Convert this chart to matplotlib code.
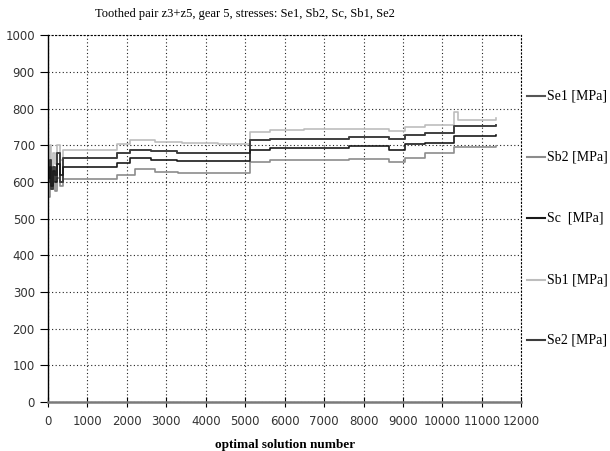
import matplotlib
matplotlib.use("Agg")
import matplotlib.pyplot as plt
from matplotlib.lines import Line2D

# step data (x = solution number, y = stress in MPa)
sb1_x = [0, 40, 80, 130, 180, 230, 300, 380, 1760, 2090, 2700, 3400, 4300, 5110, 5620, 6500, 8640, 9060, 9560, 10280, 10400, 11350]
sb1_y = [640, 700, 620, 680, 650, 700, 660, 688, 702, 714, 709, 705, 702, 737, 741, 744, 739, 750, 755, 790, 770, 775]

se1_x = [0, 40, 80, 130, 180, 230, 300, 380, 1760, 2090, 2600, 3270, 5110, 5620, 7630, 8640, 9060, 9560, 10280, 11350]
se1_y = [600, 660, 580, 640, 620, 680, 600, 664, 678, 688, 683, 680, 714, 718, 723, 716, 727, 734, 752, 755]

se2_x = [0, 40, 80, 130, 180, 230, 300, 380, 1760, 2090, 2600, 3270, 5110, 5620, 7630, 8640, 9060, 9560, 10280, 11350]
se2_y = [600, 660, 580, 640, 620, 680, 600, 664, 678, 688, 683, 680, 714, 718, 723, 716, 727, 734, 752, 755]

sc_x = [0, 40, 80, 130, 180, 230, 300, 380, 1760, 2090, 2600, 3270, 5110, 5620, 7630, 8640, 9060, 9560, 10280, 11350]
sc_y = [610, 640, 590, 630, 600, 650, 620, 641, 652, 664, 660, 657, 687, 693, 697, 688, 702, 706, 725, 728]

sb2_x = [0, 40, 80, 130, 180, 230, 300, 380, 1760, 2200, 2700, 3300, 5110, 5620, 7630, 8640, 9060, 9560, 10280, 11350]
sb2_y = [560, 620, 580, 600, 575, 610, 590, 609, 620, 634, 627, 623, 655, 659, 662, 654, 666, 678, 695, 698]

labels = ["Se1 [MPa]", "Sb2 [MPa]", "Sc  [MPa]", "Sb1 [MPa]", "Se2 [MPa]"]
colors = ["#555555", "#8c8c8c", "#1a1a1a", "#bdbdbd", "#3c3c3c"]

serif = ["Liberation Serif", "DejaVu Serif"]

fig = plt.figure(figsize=(6.1, 4.51), dpi=100)
ax = fig.add_axes([0.0787, 0.1086, 0.776, 0.8134])

series = [(se1_x, se1_y), (sb2_x, sb2_y), (sc_x, sc_y), (sb1_x, sb1_y), (se2_x, se2_y)]
# draw order: light ones first, dark on top
for i in [3, 1, 0, 4, 2]:
    xs, ys = series[i]
    ax.plot(xs, ys, drawstyle="steps-post", color=colors[i], lw=1.2)

ax.set_xlim(0, 12000)
ax.set_ylim(0, 1000)
ax.set_xticks(range(0, 12001, 1000))
ax.set_yticks(range(0, 1001, 100))
ax.grid(True, color="#222222", linestyle=(0, (1, 2.2)), linewidth=0.8)

for s in ["top", "right"]:
    ax.spines[s].set_linestyle((0, (1, 2.2)))
    ax.spines[s].set_linewidth(0.8)
ax.spines["left"].set_color("black")
ax.spines["left"].set_linewidth(1.0)
ax.spines["bottom"].set_color("#7a7a7a")
ax.spines["bottom"].set_linewidth(1.8)

ax.tick_params(axis="y", direction="out", length=6, labelsize=8.5, labelcolor="#333333")
ax.tick_params(axis="x", direction="inout", length=7, labelsize=8.5, labelcolor="#333333", pad=6)

ax.set_xlabel("optimal solution number", family=serif, fontsize=9.5, fontweight="bold", labelpad=8)
fig.text(0.402, 0.968, "Toothed pair z3+z5, gear 5, stresses: Se1, Sb2, Sc, Sb1, Se2",
         family=serif, fontsize=9, ha="center", va="center")

# legend entries at the right
leg_y = [96, 157, 218, 280, 340]
for lab, c, py in zip(labels, colors, leg_y):
    yf = 1 - py / 451
    fig.add_artist(Line2D([527 / 610, 545 / 610], [yf, yf], color=c, lw=1.5))
    fig.text(547 / 610, yf, lab, family=serif, fontsize=10, va="center", ha="left")

fig.savefig("out.png", dpi=100)
